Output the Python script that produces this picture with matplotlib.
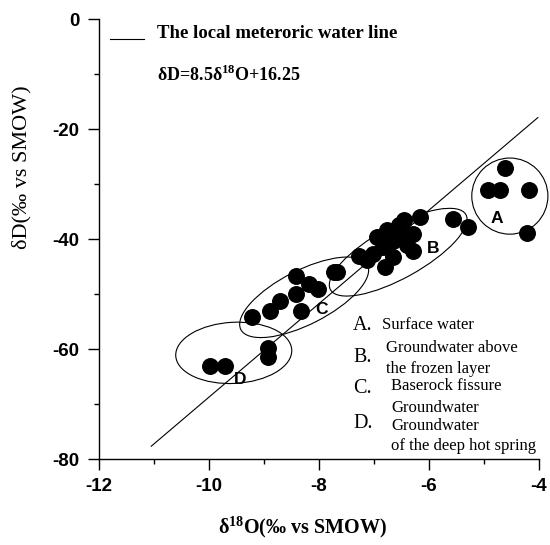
import matplotlib

matplotlib.use("Agg")
import matplotlib.pyplot as plt
from matplotlib.patches import Ellipse
from matplotlib.ticker import FuncFormatter, MultipleLocator

plt.rcParams["axes.unicode_minus"] = False
plt.rcParams["mathtext.fontset"] = "custom"
plt.rcParams["mathtext.rm"] = "Liberation Serif"
plt.rcParams["mathtext.bf"] = "Liberation Serif:bold"

# local meteoric water line: dD = 8.5 d18O + 16.25
lmwl_slope = 8.5
lmwl_icpt = 16.25
lmwl_x = [-11.05, -4.02]

# A: surface water
a_x = [-4.61, -4.92, -4.71, -4.19, -4.21]
a_y = [-27.0, -31.1, -31.1, -31.1, -38.9]
# B: groundwater above the frozen layer
b_x = [-6.16, -5.56, -5.30, -6.45, -6.29, -6.77, -6.65, -6.29, -6.84, -7.02,
       -7.27, -7.13, -6.80, -6.65, -6.53, -6.95, -6.55, -6.40, -7.68]
b_y = [-36.0, -36.4, -37.8, -36.5, -39.0, -38.4, -40.3, -42.1, -41.5, -42.7,
       -43.0, -43.9, -45.1, -43.3, -39.6, -39.6, -37.5, -41.0, -46.0]
# C: baserock fissure groundwater
c_x = [-8.41, -8.19, -8.01, -8.41, -8.71, -8.90, -9.21, -8.32, -7.73]
c_y = [-46.8, -48.1, -49.1, -50.0, -51.2, -53.0, -54.1, -53.0, -46.0]
# D: groundwater of the deep hot spring
d_x = [-9.99, -9.71, -8.92, -8.92]
d_y = [-63.0, -63.0, -59.8, -61.4]

group_names = ["A", "B", "C", "D"]
group_label_x = [-4.76, -5.93, -7.95, -9.44]
group_label_y = [-36.3, -41.7, -52.8, -65.6]

# ellipse outlines: centre in data units, size in axes fraction, tilt in degrees
ell_cx = [-4.53, -6.56, -8.27, -9.55]
ell_cy = [-32.2, -42.4, -50.6, -60.7]
ell_w = [0.173, 0.352, 0.323, 0.264]
ell_h = [0.173, 0.118, 0.123, 0.139]
ell_ang = [0, 29, 27, 3]

XMIN, XMAX, YMIN, YMAX = -12, -4, -80, 0

fig = plt.figure(figsize=(5.5, 5.45), dpi=100)
ax = fig.add_axes([99 / 550, 1 - 459 / 545, 440 / 550, 440 / 545])
ax.set_xlim(XMIN, XMAX)
ax.set_ylim(YMIN, YMAX)

ax.plot(lmwl_x, [lmwl_slope * v + lmwl_icpt for v in lmwl_x], color="black",
        lw=0.8, clip_on=False)

for xs, ys in [(a_x, a_y), (b_x, b_y), (c_x, c_y), (d_x, d_y)]:
    ax.scatter(xs, ys, s=125, color="black", zorder=3, clip_on=False)

for cx, cy, w, h, ang in zip(ell_cx, ell_cy, ell_w, ell_h, ell_ang):
    centre = ((cx - XMIN) / (XMAX - XMIN), (cy - YMIN) / (YMAX - YMIN))
    ax.add_patch(Ellipse(centre, w, h, angle=ang, transform=ax.transAxes,
                         fill=False, ec="black", lw=0.8, clip_on=False))

for name, lx, ly in zip(group_names, group_label_x, group_label_y):
    ax.text(lx, ly, name, fontsize=12.5, fontweight="bold",
            family="Liberation Sans", ha="center", va="center", zorder=4)

# legend for the line
ax.plot([-11.8, -11.18], [-3.6, -3.6], color="black", lw=0.8, clip_on=False)
ax.text(-10.95, -2.7, "The local meteroric water line", family="Liberation Serif",
        fontweight="bold", fontsize=13.5, va="center")
ax.text(-10.95, -10.2, r"δD=8.5δ$^{\mathbf{18}}$O+16.25", family="Liberation Serif",
        fontweight="bold", fontsize=13, va="center")

# key to the groups
serif = dict(family="Liberation Serif", va="center", ha="left")
for letter, ly in [("A.", -55.7), ("B.", -61.6), ("C.", -67.2), ("D.", -73.6)]:
    ax.text(-7.38, ly, letter, fontsize=14.5, **serif)
key_lines = [(-6.85, -55.7, "Surface water"),
             (-6.78, -59.9, "Groundwater above"),
             (-6.78, -63.6, "the frozen layer"),
             (-6.69, -66.8, "Baserock fissure"),
             (-6.69, -70.7, "Groundwater"),
             (-6.69, -74.0, "Groundwater"),
             (-6.69, -77.6, "of the deep hot spring")]
for kx, ky, txt in key_lines:
    ax.text(kx, ky, txt, fontsize=12, **serif)

for side in ["top", "right"]:
    ax.spines[side].set_visible(False)
for side in ["left", "bottom"]:
    ax.spines[side].set_linewidth(1.0)

ax.xaxis.set_major_locator(MultipleLocator(2))
ax.xaxis.set_minor_locator(MultipleLocator(1))
ax.yaxis.set_major_locator(MultipleLocator(20))
ax.yaxis.set_minor_locator(MultipleLocator(10))
fmt = FuncFormatter(lambda v, _: f"{v:g}")
ax.xaxis.set_major_formatter(fmt)
ax.yaxis.set_major_formatter(fmt)
ax.tick_params(which="major", length=8, width=1.0, pad=6, labelsize=13.5)
ax.tick_params(which="minor", length=3.6, width=1.0)
for lab in ax.get_xticklabels() + ax.get_yticklabels():
    lab.set_family("Liberation Sans")
    lab.set_fontweight("bold")

fig.text(303 / 550, 1 - 527 / 545, r"δ$^{\mathbf{18}}$O(‰ vs SMOW)",
         family="Liberation Serif", fontweight="bold", fontsize=14.5,
         ha="center", va="center")
fig.text(22 / 550, 1 - 167 / 545, "δD(‰ vs SMOW)", family="Liberation Serif",
         fontsize=16, rotation=90, ha="center", va="center")

fig.savefig("out.png", dpi=100, facecolor="white")
